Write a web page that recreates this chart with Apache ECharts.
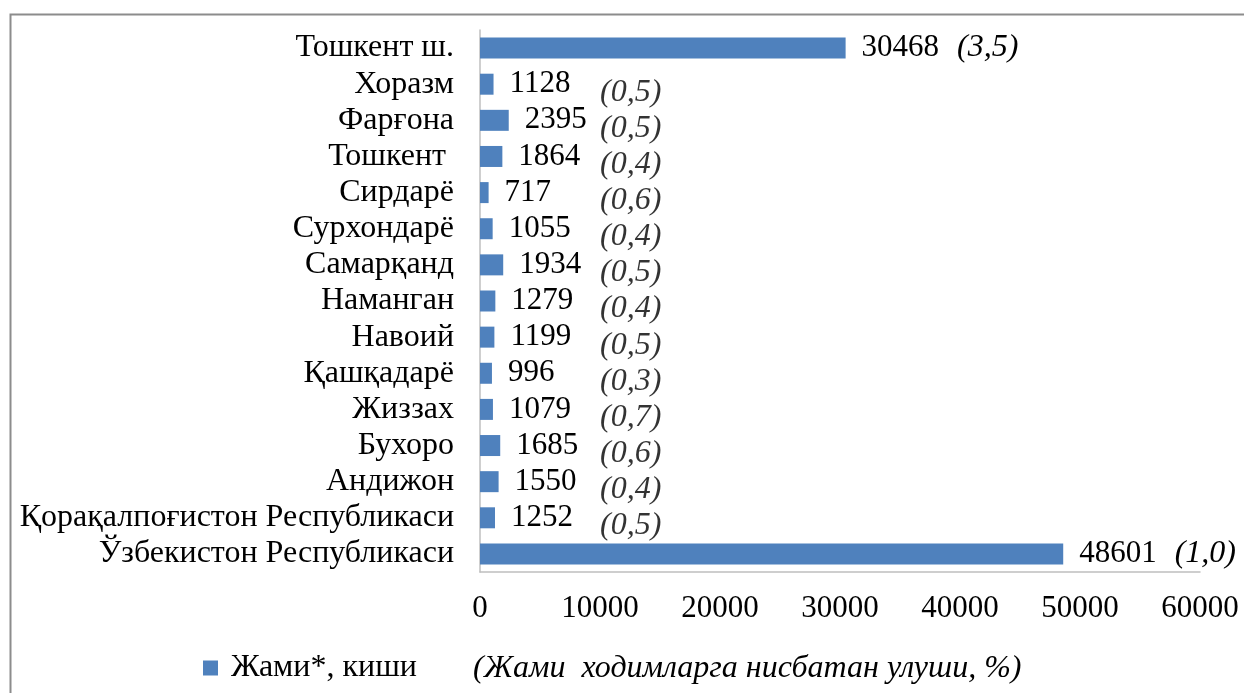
<!DOCTYPE html>
<html>
<head>
<meta charset="utf-8">
<script src="https://cdn.jsdelivr.net/npm/echarts@6/dist/echarts.min.js"></script>
<style>
  html, body { margin: 0; padding: 0; background: #fff; }
  #main { width: 1244px; height: 693px; }
</style>
</head>
<body>
<div id="main"></div>
<script>
// категориялар (пастдан юқорига)
var regions = ['Ўзбекистон Республикаси', 'Қорақалпоғистон Республикаси', 'Андижон', 'Бухоро',
  'Жиззах', 'Қашқадарё', 'Навоий', 'Наманган', 'Самарқанд', 'Сурхондарё', 'Сирдарё',
  'Тошкент ', 'Фарғона', 'Хоразм', 'Тошкент ш.'];
var workers = [48601, 1252, 1550, 1685, 1079, 996, 1199, 1279, 1934, 1055, 717, 1864, 2395, 1128, 30468];
var shares = ['(1,0)', '(0,5)', '(0,4)', '(0,6)', '(0,7)', '(0,3)', '(0,5)', '(0,4)', '(0,5)', '(0,4)',
  '(0,6)', '(0,4)', '(0,5)', '(0,5)', '(3,5)'];
var xTicks = [0, 60000, 10000]; // min, max, interval

var seriesName = 'Жами*, киши';
var noteText = '(Жами  ходимларга нисбатан улуши, %)';

var FONT = '"Liberation Serif", "Times New Roman", serif';
var BIG = 10000;        // катта устунларда улуш ёзуви қийматдан кейин
var PCT_COLUMN = 10000; // кичик устунлар учун улуш устуни

var pctData = [];
workers.forEach(function (v, i) {
  if (v <= BIG) pctData.push({ value: [PCT_COLUMN, regions[i]], idx: i });
});

var chart = echarts.init(document.getElementById('main'));
chart.setOption({
  animation: false,
  textStyle: { fontFamily: FONT },
  graphic: [{
    type: 'rect',
    left: 8, top: 12,
    shape: { width: 1300, height: 800 },
    style: { fill: 'none', stroke: '#8c8c8c', lineWidth: 2 }
  }],
  title: {
    text: noteText,
    left: 468, top: 648,
    textStyle: { fontFamily: FONT, fontSize: 32, fontStyle: 'italic', fontWeight: 'normal', color: '#000' }
  },
  legend: {
    data: [seriesName],
    left: 198, top: 647,
    icon: 'rect',
    itemWidth: 15, itemHeight: 15,
    textStyle: { fontFamily: FONT, fontSize: 32, color: '#000', padding: [0, 0, 0, 8] }
  },
  grid: { left: 480, right: 44, top: 30, bottom: 121, containLabel: false },
  xAxis: {
    type: 'value',
    min: xTicks[0], max: xTicks[1], interval: xTicks[2],
    axisLine: { show: true, lineStyle: { color: '#bfbfbf', width: 1.5 } },
    axisTick: { show: false },
    splitLine: { show: false },
    axisLabel: { fontFamily: FONT, fontSize: 31, color: '#000', margin: 21, formatter: function (v) { return String(v); } }
  },
  yAxis: {
    type: 'category',
    data: regions,
    axisLine: { show: true, lineStyle: { color: '#bfbfbf', width: 1.5 } },
    axisTick: { show: false },
    axisLabel: { interval: 0, fontFamily: FONT, fontSize: 32, color: '#000', margin: 26 }
  },
  series: [{
    name: seriesName,
    type: 'bar',
    data: workers,
    barWidth: 21,
    itemStyle: { color: '#4f81bd' },
    label: {
      show: true,
      position: 'right',
      distance: 16,
      color: '#000',
      fontFamily: FONT,
      fontSize: 31,
      formatter: function (p) {
        var v = workers[p.dataIndex];
        return v > BIG ? '{v|' + v + '}{p|' + shares[p.dataIndex] + '}' : '{v|' + v + '}';
      },
      rich: {
        v: { fontFamily: FONT, fontSize: 31, color: '#000' },
        p: { fontFamily: FONT, fontSize: 32, fontStyle: 'italic', color: '#000', padding: [0, 0, 0, 18] }
      }
    }
  }, {
    name: 'share',
    type: 'scatter',
    data: pctData,
    symbolSize: 0,
    silent: true,
    label: {
      show: true,
      position: 'right',
      distance: 0,
      offset: [0, 8],
      fontFamily: FONT,
      fontSize: 32,
      fontStyle: 'italic',
      color: '#000',
      formatter: function (p) { return shares[p.data.idx]; }
    }
  }]
});
</script>
</body>
</html>
